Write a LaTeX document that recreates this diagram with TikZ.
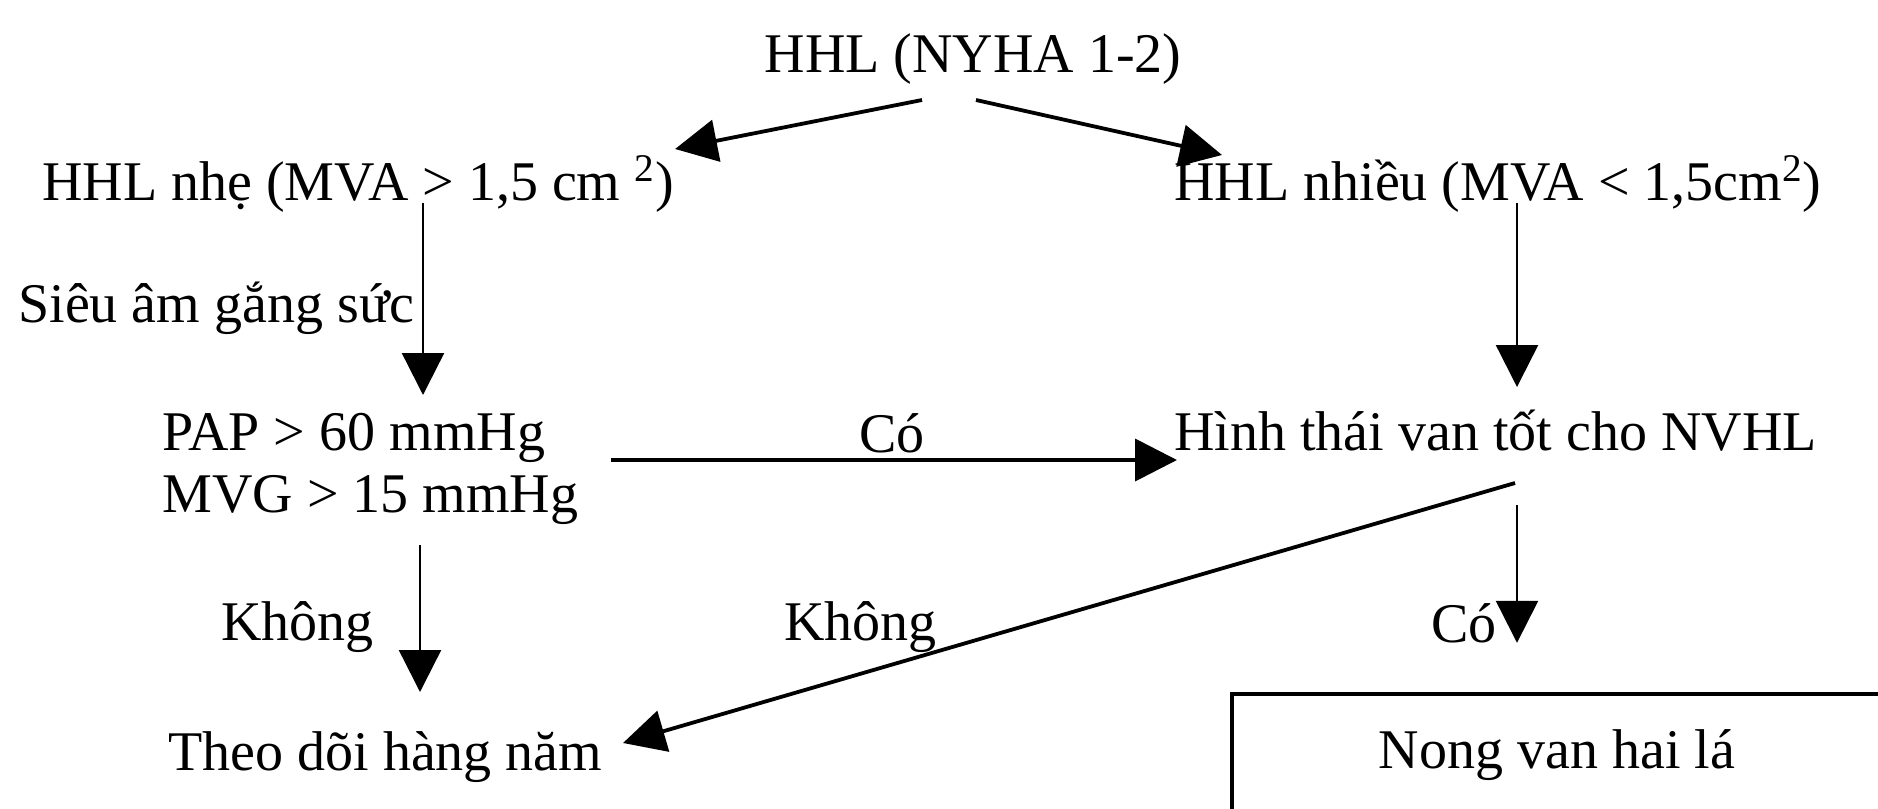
\documentclass[tikz,border=0pt]{standalone}
\usepackage{fontspec}
\setmainfont{Liberation Serif}
\usetikzlibrary{arrows.meta,positioning}

\begin{document}
\begin{tikzpicture}[x=0.5pt,y=-0.5pt,
    txt/.style={inner sep=0pt, anchor=base west, font=\fontsize{28}{31}\selectfont},
    flow/.style={-{Triangle[length=21pt,width=21pt]}, line width=1.2pt},
    bold flow/.style={flow, line width=1.9pt}]
    \useasboundingbox (0,0) rectangle (1878,808);
    \clip (0,0) rectangle (1878,808);
    
    % Top
    \node[txt, anchor=base] (top) at (973,73) {HHL (NYHA 1-2)};
    
    % Second row
    \node[txt] (nhe) at (42,200) {HHL nhẹ (MVA > 1,5 cm \textsuperscript{2})};
    \node[txt] (nhieu) at (1174,200) {HHL nhiều (MVA < 1,5cm\textsuperscript{2})};
    \node[txt] (sieuam) at (18,322) {Siêu âm gắng sức};
    
    % Third row
    \node[txt] (pap) at (162,450) {PAP > 60 mmHg};
    \node[txt] (mvg) at (162,512) {MVG > 15 mmHg};
    \node[txt] (hinh) at (1174,450) {Hình thái van tốt cho NVHL};
    \node[txt, anchor=base] (co1) at (892,452) {Có};
    
    % Labels
    \node[txt] (khong1) at (221,640) {Không};
    \node[txt] (khong2) at (784,640) {Không};
    \node[txt] (co2) at (1431,642) {Có};
    
    % Bottom row
    \node[txt] (theo) at (168,770) {Theo dõi hàng năm};
    \node[txt, anchor=base, draw, line width=2.2pt, minimum width=325pt,
        text height=19pt, text depth=60pt, inner ysep=18pt] (nong) at (1557,768) {Nong van hai lá};
    
    % Arrows
    \draw[bold flow] ([xshift=-25.5pt,yshift=-13.5pt]top.base) -- ([xshift=0.5pt,yshift=25.5pt]nhe.base east);
    \draw[bold flow] ([xshift=1.5pt,yshift=-13.5pt]top.base) -- ([xshift=24pt,yshift=22.5pt]nhieu.base west);
    \draw[flow] ([xshift=190.5pt,yshift=-1.5pt]nhe.base west) -- ([xshift=130.5pt,yshift=27.5pt]pap.base west);
    \draw[flow] ([xshift=171.5pt,yshift=-1.5pt]nhieu.base west) -- ([xshift=171.5pt,yshift=31.5pt]hinh.base west);
    \draw[bold flow] ([xshift=224.5pt,yshift=-5pt]pap.base west) -- ([xshift=1.5pt,yshift=-5pt]hinh.base west);
    \draw[flow] ([xshift=129pt,yshift=-16.5pt]mvg.base west) -- ([xshift=126pt,yshift=39pt]theo.base west);
    \draw[bold flow] ([xshift=170.5pt,yshift=-16.5pt]hinh.base west) -- ([xshift=227.5pt,yshift=13.5pt]theo.base west);
    \draw[flow] ([xshift=171.5pt,yshift=-27.5pt]hinh.base west) -- ([xshift=-20pt,yshift=24.5pt]nong.north);
\end{tikzpicture}
\end{document}
